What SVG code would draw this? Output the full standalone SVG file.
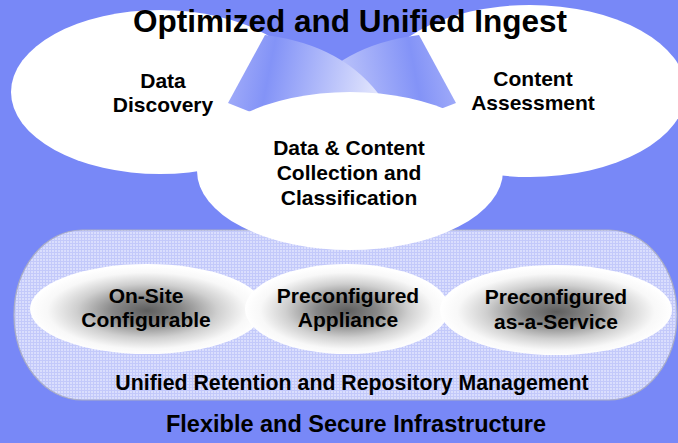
<svg xmlns="http://www.w3.org/2000/svg" width="678" height="443" viewBox="0 0 678 443">
<style>
.t{font-family:"Liberation Sans",Arial,Helvetica,sans-serif;font-weight:bold;fill:#000;text-anchor:middle}
.m{font-size:21px}
.cloud{fill:#ffffff}
.pill{fill:url(#gray)}
</style>
<defs>
<pattern id="grid" width="3" height="3" patternUnits="userSpaceOnUse">
<rect width="3" height="3" fill="#dadefd"/>
<rect width="1" height="3" fill="#c3c9fa"/>
<rect width="3" height="1" fill="#c3c9fa"/>
</pattern>
<radialGradient id="gray" cx="50%" cy="52%" r="50%">
<stop offset="0" stop-color="#5e5e5e"/>
<stop offset="0.3" stop-color="#888888"/>
<stop offset="0.6" stop-color="#cfcfcf"/>
<stop offset="0.85" stop-color="#f8f8f8"/>
<stop offset="1" stop-color="#ffffff"/>
</radialGradient>
<linearGradient id="wl" gradientUnits="userSpaceOnUse" x1="225" y1="70" x2="378" y2="100">
<stop offset="0" stop-color="#a5aff9"/>
<stop offset="0.28" stop-color="#8393f7"/>
<stop offset="1" stop-color="#e4e7fd"/>
</linearGradient>
<linearGradient id="wr" gradientUnits="userSpaceOnUse" x1="459" y1="70" x2="306" y2="100">
<stop offset="0" stop-color="#a5aff9"/>
<stop offset="0.28" stop-color="#8393f7"/>
<stop offset="1" stop-color="#d8dcfc"/>
</linearGradient>
</defs>
<rect width="678" height="443" fill="#7888f7"/>

<g id="node-retention">
<rect x="14" y="230" width="663" height="170" rx="68" ry="85" fill="url(#grid)" stroke="#a9adc6" stroke-width="1.2"/>
<text class="t" x="352" y="390" font-size="21.3">Unified Retention and Repository Management</text>
</g>

<g id="node-onsite">
<ellipse class="pill" cx="147" cy="309" rx="117" ry="45"/>
<text class="t m" x="146" y="303">On-Site</text>
<text class="t m" x="146" y="327">Configurable</text>
</g>
<g id="node-appliance">
<ellipse class="pill" cx="347" cy="309" rx="102" ry="45"/>
<text class="t m" x="348" y="303">Preconfigured</text>
<text class="t m" x="348" y="327">Appliance</text>
</g>
<g id="node-service">
<ellipse class="pill" cx="556" cy="310" rx="116" ry="45"/>
<text class="t m" x="556" y="304">Preconfigured</text>
<text class="t m" x="556" y="329">as-a-Service</text>
</g>

<g id="node-discovery">
<ellipse class="cloud" cx="160" cy="92" rx="149" ry="82"/>
<text class="t m" x="163" y="88">Data</text>
<text class="t m" x="163" y="112">Discovery</text>
</g>
<g id="node-assessment">
<ellipse class="cloud" cx="530" cy="91" rx="156" ry="86"/>
<text class="t m" x="533" y="86">Content</text>
<text class="t m" x="533" y="110">Assessment</text>
</g>

<g id="connectors">
<path d="M419,35 Q339,45 301,100 L384,125 L443,108 L456,103 Z" fill="url(#wr)"/>
<path d="M265,35 Q345,45 383,100 L300,125 L248,111 L228,103 Z" fill="url(#wl)"/>
</g>

<g id="node-collection">
<ellipse class="cloud" cx="350" cy="171" rx="153" ry="79"/>
<text class="t m" x="349" y="155">Data &amp; Content</text>
<text class="t m" x="349" y="180">Collection and</text>
<text class="t m" x="349" y="205">Classification</text>
</g>

<g id="title">
<text class="t" x="350" y="32" font-size="31.5">Optimized and Unified Ingest</text>
</g>
<g id="footer">
<text class="t" x="356" y="432" font-size="23.5">Flexible and Secure Infrastructure</text>
</g>
</svg>
